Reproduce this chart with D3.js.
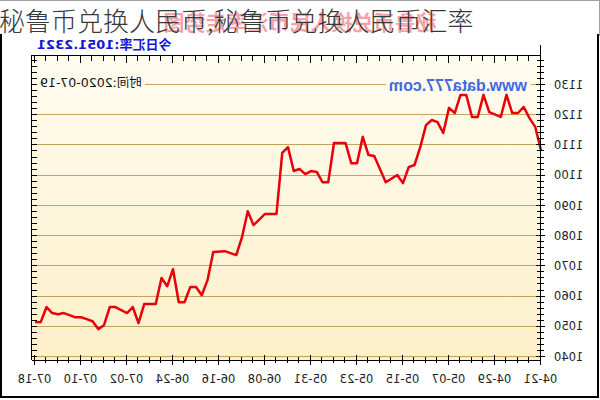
<!DOCTYPE html>
<html><head><meta charset="utf-8">
<script src="https://cdn.jsdelivr.net/npm/d3@7"></script>
<style>body{margin:0;background:#fff}svg{display:block}</style>
</head><body><svg id="c" width="600" height="400"></svg>
<script>
const dates = ["2020-04-21","2020-04-22","2020-04-23","2020-04-24","2020-04-25","2020-04-26","2020-04-27","2020-04-28","2020-04-30",
"2020-05-01","2020-05-02","2020-05-03","2020-05-04","2020-05-05","2020-05-06","2020-05-07","2020-05-08","2020-05-09","2020-05-10",
"2020-05-11","2020-05-12","2020-05-13","2020-05-14","2020-05-15","2020-05-16","2020-05-18","2020-05-20","2020-05-21","2020-05-22",
"2020-05-23","2020-05-24","2020-05-25","2020-05-27","2020-05-28","2020-05-29","2020-05-30","2020-05-31",
"2020-06-01","2020-06-02","2020-06-03","2020-06-04","2020-06-05","2020-06-06","2020-06-08","2020-06-10","2020-06-11","2020-06-12",
"2020-06-13","2020-06-15","2020-06-17","2020-06-18","2020-06-19","2020-06-20","2020-06-21","2020-06-22","2020-06-23","2020-06-24",
"2020-06-25","2020-06-26","2020-06-27","2020-06-29","2020-06-30",
"2020-07-01","2020-07-02","2020-07-04","2020-07-05","2020-07-06","2020-07-07","2020-07-08","2020-07-09","2020-07-10","2020-07-11",
"2020-07-12","2020-07-13","2020-07-14","2020-07-15","2020-07-16","2020-07-17","2020-07-18"];
const values = [1108.0,1115.8,1118.7,1122.4,1120.4,1120.4,1126.4,1119.1,1120.7,
1126.4,1119.1,1119.1,1126.4,1126.4,1120.4,1122.1,1113.8,1117.4,1118.1,
1116.4,1109.1,1103.2,1102.5,1097.2,1099.9,1097.5,1106.2,1106.5,1112.5,
1103.8,1103.8,1110.5,1110.5,1097.5,1097.5,1100.9,1101.2,
1100.2,1101.9,1101.2,1109.1,1107.2,1087.0,1087.0,1083.3,1087.9,1079.3,
1073.4,1074.7,1074.4,1065.1,1060.1,1062.8,1062.8,1057.8,1057.8,1068.7,
1063.1,1065.8,1057.2,1057.2,1050.9,
1056.2,1054.2,1056.2,1056.2,1050.2,1048.9,1051.5,1052.2,1052.8,1052.8,
1053.5,1054.2,1053.8,1054.2,1056.2,1051.2,1051.2321];
const yTicks = [1040,1050,1060,1070,1080,1090,1100,1110,1120,1130];
const xTickLabels = ["04-21","04-29","05-07","05-15","05-23","05-31","06-08","06-16","06-24","07-02","07-10","07-18"];
const titleText = "秘鲁币兑换人民币,秘鲁币兑换人民币汇率";
const ghostTitle = "秘鲁币兑换人民币汇率走势图";
const rateText = "今日汇率:1051.2321";
const timeText = "时间:2020-07-19";
const siteText = "www.data777.com";

const svg = d3.select("#c");
const L = 59, R = 568, T = 55, B = 360;
const parse = d3.timeParse("%Y-%m-%d");
const x = d3.scaleTime().domain([parse("2020-04-21"), parse("2020-07-18")]).range([59, 565]);
const y = d3.scaleLinear().domain([1040, 1130]).range([356, 84]);
const data = dates.map((d, i) => ({date: parse(d), value: values[i]}));

const defs = svg.append("defs");
const grad = defs.append("linearGradient").attr("id", "bg").attr("x1", 0).attr("y1", 0).attr("x2", 0).attr("y2", 1);
grad.append("stop").attr("offset", "0%").attr("stop-color", "#fffcf0");
grad.append("stop").attr("offset", "100%").attr("stop-color", "#fdf0c9");

svg.append("rect").attr("width", 600).attr("height", 400).attr("fill", "#fff");
svg.append("rect").attr("x", 1).attr("y", 10).attr("width", 597).attr("height", 387)
  .attr("fill", "none").attr("stroke", "#000").attr("stroke-width", 2);
svg.append("rect").attr("x", 0).attr("y", 0).attr("width", 600).attr("height", 34).attr("fill", "#fff");
svg.append("line").attr("x1", 0).attr("x2", 600).attr("y1", 0.5).attr("y2", 0.5).attr("stroke", "#a0a0a0");
svg.append("line").attr("x1", 599.5).attr("x2", 599.5).attr("y1", 0).attr("y2", 36).attr("stroke", "#a0a0a0");

// mirrored chart
const g = svg.append("g").attr("transform", "translate(600,0) scale(-1,1)");

g.append("text").attr("x", 300).attr("y", 30).attr("text-anchor", "middle")
  .attr("font-family", "Noto Sans CJK SC").attr("font-weight", "bold").attr("font-size", 21)
  .attr("fill", "#e83040").attr("opacity", 0.45).text(ghostTitle);

g.append("rect").attr("x", L).attr("y", T).attr("width", R - L).attr("height", B - T).attr("fill", "url(#bg)");

g.selectAll("line.grid").data(yTicks).join("line").attr("class", "grid")
  .attr("x1", L).attr("x2", R).attr("y1", d => Math.round(y(d)) + 0.5).attr("y2", d => Math.round(y(d)) + 0.5)
  .attr("stroke", "#c4a45c").attr("stroke-width", 1);

function bgText(txt, xx, yy, anchor, size, weight, color, fam) {
  const grp = g.append("g");
  const t = grp.append("text").attr("x", xx).attr("y", yy).attr("text-anchor", anchor)
    .attr("font-family", fam).attr("font-size", size).attr("font-weight", weight).attr("fill", color).text(txt);
  const bb = t.node().getBBox();
  grp.insert("rect", "text").attr("x", bb.x - 3).attr("y", bb.y + 2).attr("width", bb.width + 6).attr("height", bb.height - 4)
    .attr("fill", "#fffbec");
}
bgText(timeText, 560, 87, "end", 12.5, "normal", "#111", "DejaVu Sans, Noto Sans CJK SC");
bgText(siteText, 73, 91, "start", 16, "bold", "#4169e1", "Liberation Sans, Arial, sans-serif");

g.append("path").datum(data)
  .attr("d", d3.line().x(d => x(d.date)).y(d => y(d.value)))
  .attr("fill", "none").attr("stroke", "#e8000b").attr("stroke-width", 2.5).attr("stroke-linejoin", "round");

const stroke = "#000";
g.append("line").attr("x1", L).attr("x2", R).attr("y1", T + 0.5).attr("y2", T + 0.5).attr("stroke", stroke);
g.append("line").attr("x1", L).attr("x2", R).attr("y1", B + 0.5).attr("y2", B + 0.5).attr("stroke", stroke);
g.append("line").attr("x1", R + 0.5).attr("x2", R + 0.5).attr("y1", T).attr("y2", B).attr("stroke", stroke);
g.append("line").attr("x1", L + 0.5).attr("x2", L + 0.5).attr("y1", 45).attr("y2", B + 3).attr("stroke", stroke);

const yMinor = d3.range(1040, 1139, 2);
g.selectAll("line.ym").data(yMinor).join("line").attr("class", "ym")
  .attr("x1", d => d % 10 === 0 ? L - 4 : L - 3).attr("x2", d => d % 10 === 0 ? L + 5 : L + 4)
  .attr("y1", d => Math.round(y(d)) + 0.5).attr("y2", d => Math.round(y(d)) + 0.5).attr("stroke", stroke);
g.selectAll("line.yr").data(yMinor).join("line").attr("class", "yr")
  .attr("x1", R - 5).attr("x2", R)
  .attr("y1", d => Math.round(y(d)) + 0.5).attr("y2", d => Math.round(y(d)) + 0.5).attr("stroke", stroke);

const yAxis = g.append("g").attr("transform", `translate(${L},0)`)
  .call(d3.axisLeft(y).tickValues(yTicks).tickSize(0).tickPadding(13).tickFormat(d3.format("d")));
yAxis.select(".domain").remove();
yAxis.selectAll("text").attr("font-family", "DejaVu Sans").attr("font-size", 11.5).attr("fill", "#222").attr("dy", "0.36em");

const xDays = d3.range(0, 89, 2).map(i => d3.timeDay.offset(parse("2020-04-21"), i));
g.selectAll("line.xb").data(xDays).join("line").attr("class", "xb")
  .attr("x1", d => Math.round(x(d)) + 0.5).attr("x2", d => Math.round(x(d)) + 0.5)
  .attr("y1", (d, i) => i % 4 === 0 ? B - 5 : B - 3).attr("y2", (d, i) => i % 4 === 0 ? B + 5 : B + 3).attr("stroke", stroke);
g.selectAll("line.xt").data(xDays).join("line").attr("class", "xt")
  .attr("x1", d => Math.round(x(d)) + 0.5).attr("x2", d => Math.round(x(d)) + 0.5)
  .attr("y1", T).attr("y2", (d, i) => i % 4 === 0 ? T + 8 : T + 6).attr("stroke", stroke);

const xLabelDates = xTickLabels.map(s => parse("2020-" + s));
const xAxis = g.append("g").attr("transform", `translate(0,${B})`)
  .call(d3.axisBottom(x).tickValues(xLabelDates).tickSize(0).tickPadding(15).tickFormat(d3.timeFormat("%m-%d")));
xAxis.select(".domain").remove();
xAxis.selectAll("text").attr("font-family", "DejaVu Sans").attr("font-size", 11.5).attr("fill", "#222");

g.append("text").attr("x", 563).attr("y", 49).attr("text-anchor", "end")
  .attr("font-family", "DejaVu Sans, Noto Sans CJK SC").attr("font-weight", "bold").attr("font-size", 13)
  .attr("fill", "#1515d8").text(rateText);

svg.append("text").attr("x", -1).attr("y", 31)
  .attr("font-family", "Noto Sans CJK SC").attr("font-size", 26).attr("font-weight", 300)
  .attr("fill", "#383838").text(titleText);
</script></body></html>
